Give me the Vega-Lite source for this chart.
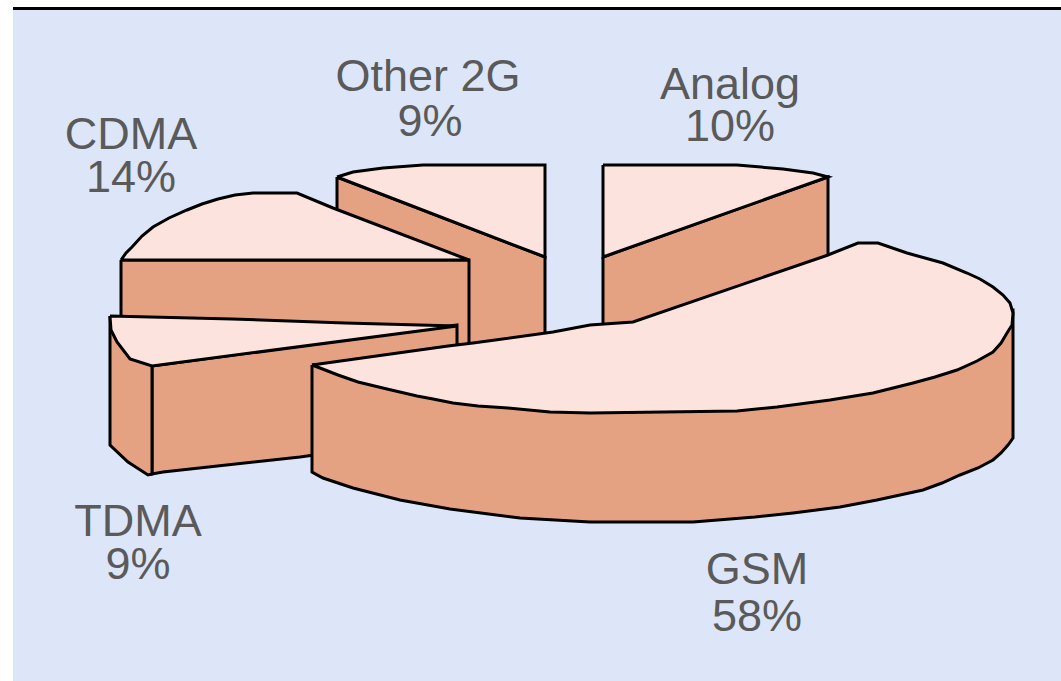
{"$schema":"https://vega.github.io/schema/vega-lite/v6.json","width":1061,"height":681,"padding":0,"autosize":{"type":"fit","contains":"padding"},"background":"#ffffff","view":{"stroke":null},
"datasets":{
"panel":[{"x":13,"x2":1061,"y":10,"y2":681,"c":"panel"},{"x":13,"x2":1061,"y":7,"y2":10,"c":"line"}],
"labels":[{"label":"Other 2G","x":428,"y":77},{"label":"9%","x":430,"y":122},{"label":"Analog","x":730,"y":85},{"label":"10%","x":730,"y":127},{"label":"CDMA","x":131,"y":135},{"label":"14%","x":131,"y":178},{"label":"TDMA","x":138,"y":522},{"label":"9%","x":138,"y":565},{"label":"GSM","x":757,"y":570},{"label":"58%","x":757,"y":617}],
"shapes":[
{"s":"a other side","p":"side","i":0,"x":337,"y":177},{"s":"a other side","p":"side","i":1,"x":545,"y":257},{"s":"a other side","p":"side","i":2,"x":545,"y":345},{"s":"a other side","p":"side","i":3,"x":400,"y":345},{"s":"a other side","p":"side","i":4,"x":337,"y":262},{"s":"a other side","p":"side","i":5,"x":337,"y":177},
{"s":"b other top","p":"top","i":0,"x":337,"y":177},{"s":"b other top","p":"top","i":1,"x":353,"y":172},{"s":"b other top","p":"top","i":2,"x":383,"y":168},{"s":"b other top","p":"top","i":3,"x":423,"y":165},{"s":"b other top","p":"top","i":4,"x":545,"y":165},{"s":"b other top","p":"top","i":5,"x":545,"y":257},{"s":"b other top","p":"top","i":6,"x":337,"y":177},
{"s":"c analog side","p":"side","i":0,"x":603,"y":257},{"s":"c analog side","p":"side","i":1,"x":828,"y":177},{"s":"c analog side","p":"side","i":2,"x":828,"y":258},{"s":"c analog side","p":"side","i":3,"x":603,"y":335},{"s":"c analog side","p":"side","i":4,"x":603,"y":257},
{"s":"d analog top","p":"top","i":0,"x":603,"y":165},{"s":"d analog top","p":"top","i":1,"x":737,"y":165},{"s":"d analog top","p":"top","i":2,"x":783,"y":169},{"s":"d analog top","p":"top","i":3,"x":813,"y":173},{"s":"d analog top","p":"top","i":4,"x":828,"y":177},{"s":"d analog top","p":"top","i":5,"x":603,"y":257},{"s":"d analog top","p":"top","i":6,"x":603,"y":165},
{"s":"e cdma side","p":"side","i":0,"x":121,"y":260},{"s":"e cdma side","p":"side","i":1,"x":469,"y":260},{"s":"e cdma side","p":"side","i":2,"x":469,"y":345},{"s":"e cdma side","p":"side","i":3,"x":121,"y":325},{"s":"e cdma side","p":"side","i":4,"x":121,"y":260},
{"s":"f cdma top","p":"top","i":0,"x":121,"y":260},{"s":"f cdma top","p":"top","i":1,"x":126,"y":253},{"s":"f cdma top","p":"top","i":2,"x":132,"y":247},{"s":"f cdma top","p":"top","i":3,"x":142,"y":236},{"s":"f cdma top","p":"top","i":4,"x":153,"y":227},{"s":"f cdma top","p":"top","i":5,"x":169,"y":218},{"s":"f cdma top","p":"top","i":6,"x":187,"y":210},{"s":"f cdma top","p":"top","i":7,"x":202,"y":204},{"s":"f cdma top","p":"top","i":8,"x":218,"y":199},{"s":"f cdma top","p":"top","i":9,"x":235,"y":195},{"s":"f cdma top","p":"top","i":10,"x":253,"y":193},{"s":"f cdma top","p":"top","i":11,"x":297,"y":193},{"s":"f cdma top","p":"top","i":12,"x":333,"y":208},{"s":"f cdma top","p":"top","i":13,"x":469,"y":260},{"s":"f cdma top","p":"top","i":14,"x":121,"y":260},
{"s":"g tdma front","p":"side","i":0,"x":152,"y":366},{"s":"g tdma front","p":"side","i":1,"x":457,"y":325},{"s":"g tdma front","p":"side","i":2,"x":457,"y":345},{"s":"g tdma front","p":"side","i":3,"x":457,"y":435},{"s":"g tdma front","p":"side","i":4,"x":300,"y":457},{"s":"g tdma front","p":"side","i":5,"x":163,"y":472},{"s":"g tdma front","p":"side","i":6,"x":152,"y":474},{"s":"g tdma front","p":"side","i":7,"x":152,"y":366},
{"s":"h tdma left","p":"side","i":0,"x":110,"y":316},{"s":"h tdma left","p":"side","i":1,"x":152,"y":366},{"s":"h tdma left","p":"side","i":2,"x":152,"y":474},{"s":"h tdma left","p":"side","i":3,"x":148,"y":475},{"s":"h tdma left","p":"side","i":4,"x":128,"y":462},{"s":"h tdma left","p":"side","i":5,"x":110,"y":445},{"s":"h tdma left","p":"side","i":6,"x":110,"y":316},
{"s":"i tdma top","p":"top","i":0,"x":110,"y":316},{"s":"i tdma top","p":"top","i":1,"x":232,"y":319},{"s":"i tdma top","p":"top","i":2,"x":345,"y":323},{"s":"i tdma top","p":"top","i":3,"x":457,"y":326},{"s":"i tdma top","p":"top","i":4,"x":152,"y":366},{"s":"i tdma top","p":"top","i":5,"x":130,"y":359},{"s":"i tdma top","p":"top","i":6,"x":117,"y":342},{"s":"i tdma top","p":"top","i":7,"x":111,"y":330},{"s":"i tdma top","p":"top","i":8,"x":110,"y":316},
{"s":"j gsm side","p":"side","i":0,"x":312,"y":365},{"s":"j gsm side","p":"side","i":1,"x":1013,"y":310},{"s":"j gsm side","p":"side","i":2,"x":1013,"y":438},{"s":"j gsm side","p":"side","i":3,"x":1008,"y":445},{"s":"j gsm side","p":"side","i":4,"x":1001,"y":453},{"s":"j gsm side","p":"side","i":5,"x":993,"y":460},{"s":"j gsm side","p":"side","i":6,"x":978,"y":468},{"s":"j gsm side","p":"side","i":7,"x":960,"y":475},{"s":"j gsm side","p":"side","i":8,"x":942,"y":483},{"s":"j gsm side","p":"side","i":9,"x":923,"y":490},{"s":"j gsm side","p":"side","i":10,"x":900,"y":495},{"s":"j gsm side","p":"side","i":11,"x":877,"y":500},{"s":"j gsm side","p":"side","i":12,"x":840,"y":507},{"s":"j gsm side","p":"side","i":13,"x":793,"y":513},{"s":"j gsm side","p":"side","i":14,"x":755,"y":517},{"s":"j gsm side","p":"side","i":15,"x":693,"y":522},{"s":"j gsm side","p":"side","i":16,"x":590,"y":522},{"s":"j gsm side","p":"side","i":17,"x":520,"y":518},{"s":"j gsm side","p":"side","i":18,"x":450,"y":509},{"s":"j gsm side","p":"side","i":19,"x":400,"y":500},{"s":"j gsm side","p":"side","i":20,"x":353,"y":488},{"s":"j gsm side","p":"side","i":21,"x":323,"y":478},{"s":"j gsm side","p":"side","i":22,"x":312,"y":472},{"s":"j gsm side","p":"side","i":23,"x":312,"y":365},
{"s":"k gsm top","p":"top","i":0,"x":312,"y":365},{"s":"k gsm top","p":"top","i":1,"x":448,"y":346},{"s":"k gsm top","p":"top","i":2,"x":473,"y":343},{"s":"k gsm top","p":"top","i":3,"x":553,"y":332},{"s":"k gsm top","p":"top","i":4,"x":590,"y":325},{"s":"k gsm top","p":"top","i":5,"x":633,"y":322},{"s":"k gsm top","p":"top","i":6,"x":828,"y":255},{"s":"k gsm top","p":"top","i":7,"x":858,"y":243},{"s":"k gsm top","p":"top","i":8,"x":878,"y":243},{"s":"k gsm top","p":"top","i":9,"x":907,"y":253},{"s":"k gsm top","p":"top","i":10,"x":943,"y":263},{"s":"k gsm top","p":"top","i":11,"x":967,"y":273},{"s":"k gsm top","p":"top","i":12,"x":980,"y":279},{"s":"k gsm top","p":"top","i":13,"x":993,"y":287},{"s":"k gsm top","p":"top","i":14,"x":1003,"y":295},{"s":"k gsm top","p":"top","i":15,"x":1010,"y":303},{"s":"k gsm top","p":"top","i":16,"x":1013,"y":313},{"s":"k gsm top","p":"top","i":17,"x":1012,"y":325},{"s":"k gsm top","p":"top","i":18,"x":1007,"y":333},{"s":"k gsm top","p":"top","i":19,"x":1001,"y":343},{"s":"k gsm top","p":"top","i":20,"x":993,"y":352},{"s":"k gsm top","p":"top","i":21,"x":977,"y":361},{"s":"k gsm top","p":"top","i":22,"x":957,"y":370},{"s":"k gsm top","p":"top","i":23,"x":935,"y":377},{"s":"k gsm top","p":"top","i":24,"x":913,"y":383},{"s":"k gsm top","p":"top","i":25,"x":873,"y":393},{"s":"k gsm top","p":"top","i":26,"x":830,"y":400},{"s":"k gsm top","p":"top","i":27,"x":777,"y":407},{"s":"k gsm top","p":"top","i":28,"x":737,"y":411},{"s":"k gsm top","p":"top","i":29,"x":590,"y":413},{"s":"k gsm top","p":"top","i":30,"x":550,"y":412},{"s":"k gsm top","p":"top","i":31,"x":508,"y":408},{"s":"k gsm top","p":"top","i":32,"x":478,"y":406},{"s":"k gsm top","p":"top","i":33,"x":453,"y":403},{"s":"k gsm top","p":"top","i":34,"x":433,"y":399},{"s":"k gsm top","p":"top","i":35,"x":417,"y":396},{"s":"k gsm top","p":"top","i":36,"x":387,"y":389},{"s":"k gsm top","p":"top","i":37,"x":358,"y":382},{"s":"k gsm top","p":"top","i":38,"x":338,"y":375},{"s":"k gsm top","p":"top","i":39,"x":320,"y":368},{"s":"k gsm top","p":"top","i":40,"x":312,"y":365}
]},
"layer":[
{"data":{"name":"panel"},"mark":{"type":"rect"},"encoding":{"x":{"field":"x","type":"quantitative","scale":{"domain":[0,1061],"nice":false,"zero":false},"axis":null},"x2":{"field":"x2"},"y":{"field":"y","type":"quantitative","scale":{"domain":[681,0],"nice":false,"zero":false},"axis":null},"y2":{"field":"y2"},"fill":{"field":"c","type":"nominal","scale":{"domain":["panel","line"],"range":["#dde6f8","#000000"]},"legend":null}}},
{"data":{"name":"shapes"},"mark":{"type":"line","stroke":"#000000","strokeWidth":3,"strokeJoin":"miter","interpolate":"linear","clip":true},"encoding":{"x":{"field":"x","type":"quantitative","axis":null},"y":{"field":"y","type":"quantitative","axis":null},"order":{"field":"i","type":"quantitative"},"detail":{"field":"s","type":"nominal"},"fill":{"field":"p","type":"nominal","scale":{"domain":["top","side"],"range":["#fde3de","#e5a283"]},"legend":null}}},
{"data":{"name":"labels"},"mark":{"type":"text","font":"Liberation Sans","fontSize":45,"color":"#5a5a5a","align":"center","baseline":"middle"},"encoding":{"x":{"field":"x","type":"quantitative","axis":null},"y":{"field":"y","type":"quantitative","axis":null},"text":{"field":"label","type":"nominal"}}}
],"resolve":{"scale":{"fill":"independent"}}}
